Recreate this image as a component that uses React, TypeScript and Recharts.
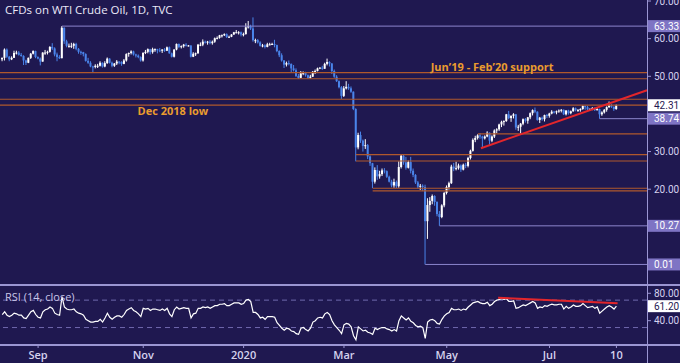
import { Bar, ComposedChart, Line, ReferenceDot, ReferenceLine, XAxis, YAxis } from 'recharts'

// daily candles, 12 Aug 2019 – 10 Aug 2020 (holidays Dec 25, Jan 1, Apr 10 skipped)
const opens = [
  54.5, 54.9, 57.1, 55.2, 54.5, 54.9, 56.2, 56.3, 55.7, 55.4,
  54.2, 53.6, 54.9, 56.0, 56.7, 55.1, 54.7, 53.9, 56.3, 56.3,
  56.5, 57.8, 57.4, 55.8, 55.1, 54.8, 62.9, 59.3, 58.1, 58.1,
  58.1, 58.6, 57.3, 56.5, 56.4, 55.9, 54.1, 53.6, 52.6, 52.5,
  52.8, 52.8, 53.6, 52.6, 53.5, 54.7, 53.6, 52.8, 53.4, 53.9,
  53.8, 53.3, 54.2, 55.9, 56.2, 56.6, 55.8, 55.5, 55.1, 54.2,
  56.2, 56.5, 57.2, 56.4, 57.2, 57.2, 56.9, 56.8, 57.1, 56.8,
  57.7, 56.1, 55.2, 57.1, 58.6, 57.8, 58.0, 58.4, 58.1, 58.2,
  55.2, 56.0, 56.1, 58.4, 58.4, 59.2, 59.0, 59.2, 58.8, 59.2,
  60.1, 60.2, 60.9, 60.9, 61.2, 60.4, 60.5, 61.1, 61.7, 61.7,
  61.7, 61.1, 61.2, 63.0, 63.3, 62.7, 59.6, 59.6, 59.0, 58.1,
  58.2, 57.8, 58.5, 58.5, 58.6, 58.3, 56.7, 55.6, 54.2, 53.1,
  53.5, 53.3, 52.1, 51.6, 50.1, 49.6, 50.8, 50.9, 50.3, 49.6,
  49.9, 51.2, 51.4, 52.1, 52.3, 52.0, 53.3, 53.8, 53.4, 51.4,
  49.9, 48.7, 47.1, 44.8, 46.8, 47.2, 46.8, 45.9, 41.3, 31.1,
  34.4, 32.9, 31.5, 31.7, 28.7, 26.9, 22.0, 25.1, 23.4, 24.0,
  25.0, 24.8, 23.3, 22.0, 21.0, 21.9, 20.8, 25.9, 28.9, 27.1,
  25.7, 27.2, 24.9, 23.8, 21.8, 20.7, 20.9, 20.6, 11.5, 15.8,
  16.9, 18.2, 16.6, 13.4, 12.6, 15.7, 19.0, 20.6, 21.6, 26.0,
  25.5, 25.6, 26.3, 25.2, 26.5, 26.2, 28.3, 30.2, 33.1, 33.6,
  34.3, 34.0, 33.5, 34.0, 35.0, 32.9, 34.0, 35.6, 35.9, 37.2,
  37.9, 38.1, 39.9, 38.9, 39.5, 39.9, 36.4, 36.6, 37.4, 38.6,
  38.2, 39.1, 40.2, 41.0, 40.6, 38.4, 39.0, 38.6, 39.7, 39.5,
  40.1, 40.6, 40.4, 40.7, 40.9, 41.1, 39.9, 40.9, 40.2, 40.7,
  41.5, 41.0, 41.0, 41.3, 42.1, 41.8, 41.2, 41.3, 41.6, 41.0,
  41.3, 39.9, 40.4, 41.1, 41.8, 42.3, 41.9, 41.3,
]
const highs = [
  55.0, 57.4, 57.4, 55.4, 55.3, 56.8, 56.8, 56.7, 56.2, 55.6,
  54.4, 55.0, 56.2, 56.9, 56.8, 55.3, 55.0, 56.4, 57.0, 56.8,
  58.0, 58.8, 57.7, 56.3, 55.6, 63.33, 63.0, 59.7, 58.7, 58.9,
  58.9, 58.9, 57.5, 56.8, 56.5, 56.1, 54.9, 54.0, 52.8, 53.2,
  53.3, 54.0, 53.7, 54.0, 55.0, 54.8, 53.9, 53.5, 54.3, 54.0,
  54.0, 54.6, 56.1, 56.3, 56.9, 56.8, 56.0, 55.8, 55.3, 56.4,
  57.0, 57.4, 57.3, 57.6, 57.4, 57.3, 57.5, 57.2, 57.5, 57.9,
  57.9, 56.3, 57.2, 58.7, 58.7, 58.2, 58.6, 58.8, 58.3, 58.2,
  56.4, 56.3, 58.6, 59.0, 59.8, 59.5, 59.4, 59.6, 59.5, 60.3,
  60.6, 61.0, 61.1, 61.4, 61.4, 60.8, 61.2, 61.8, 62.3, 62.0,
  61.9, 61.6, 64.1, 64.7, 63.7, 65.65, 60.0, 59.9, 59.3, 58.6,
  58.5, 58.9, 58.9, 58.9, 59.7, 58.4, 56.9, 56.1, 54.3, 53.9,
  54.2, 53.4, 53.0, 52.1, 50.6, 51.4, 51.3, 51.2, 50.5, 50.4,
  51.4, 51.8, 52.3, 52.4, 52.8, 53.6, 54.7, 54.0, 53.5, 51.8,
  50.3, 48.9, 47.4, 47.4, 48.7, 48.0, 47.3, 46.0, 41.5, 35.0,
  35.3, 33.2, 33.3, 32.0, 29.0, 27.0, 25.8, 26.4, 24.9, 25.5,
  25.6, 25.0, 23.6, 22.5, 22.8, 22.3, 27.4, 29.3, 29.2, 28.6,
  27.6, 28.6, 25.5, 24.0, 22.2, 21.4, 21.3, 21.2, 17.6, 17.9,
  18.6, 18.4, 16.8, 14.2, 16.0, 19.3, 21.0, 22.0, 26.5, 27.0,
  27.3, 26.8, 26.6, 26.8, 27.0, 28.6, 30.5, 33.5, 34.2, 34.6,
  34.9, 34.2, 34.3, 35.4, 35.1, 34.3, 35.9, 36.2, 37.4, 38.2,
  38.3, 40.0, 40.8, 39.6, 40.2, 40.0, 37.1, 37.6, 38.8, 38.9,
  39.2, 40.4, 41.2, 41.7, 40.7, 39.2, 39.3, 39.8, 40.0, 40.3,
  41.0, 40.8, 40.9, 41.2, 41.3, 41.2, 41.0, 41.1, 40.9, 41.8,
  41.7, 41.3, 41.5, 42.3, 42.2, 42.2, 41.5, 41.8, 41.7, 41.6,
  41.4, 40.7, 41.3, 42.0, 43.3, 42.6, 42.0, 42.5,
]
const lows = [
  54.0, 54.2, 54.9, 54.0, 54.3, 54.9, 55.8, 55.5, 55.2, 53.0,
  53.0, 53.5, 54.6, 55.8, 54.8, 54.5, 52.9, 53.9, 55.7, 55.8,
  56.3, 57.0, 55.3, 54.0, 54.6, 54.8, 58.6, 57.7, 57.6, 57.5,
  57.3, 56.9, 56.0, 55.7, 55.3, 53.9, 53.3, 52.4, 51.0, 52.1,
  52.2, 52.6, 52.3, 52.4, 53.3, 53.4, 52.4, 52.5, 53.0, 53.2,
  52.8, 53.2, 53.9, 55.2, 55.8, 55.5, 55.0, 54.8, 53.9, 53.9,
  55.9, 56.1, 55.8, 56.0, 56.5, 56.1, 56.4, 56.2, 56.5, 56.7,
  56.0, 55.0, 55.0, 56.9, 57.5, 57.4, 57.6, 57.9, 57.9, 55.0,
  55.1, 55.4, 56.0, 58.0, 58.0, 58.7, 58.4, 58.5, 58.4, 58.9,
  59.8, 60.0, 60.3, 60.7, 60.2, 60.2, 60.4, 61.0, 61.4, 61.1,
  60.6, 60.6, 61.1, 62.7, 62.3, 59.2, 58.8, 58.7, 57.9, 57.7,
  57.4, 57.7, 58.2, 58.3, 57.7, 56.4, 55.1, 53.9, 52.2, 52.6,
  52.9, 50.9, 51.3, 49.8, 49.3, 49.5, 50.3, 49.9, 49.3, 49.4,
  49.8, 50.6, 51.3, 51.9, 51.7, 52.0, 52.9, 52.6, 50.6, 49.6,
  48.5, 46.8, 44.0, 44.5, 46.5, 46.4, 45.6, 41.0, 27.4, 30.6,
  32.3, 30.0, 30.7, 28.0, 26.2, 20.3, 21.5, 22.5, 22.8, 23.5,
  24.2, 23.0, 21.8, 20.5, 20.4, 20.3, 20.4, 25.5, 26.5, 25.2,
  25.5, 24.2, 23.2, 21.4, 20.2, 19.8, 19.5, 0.01, 6.8, 14.0,
  16.0, 15.6, 12.8, 10.27, 12.3, 15.2, 18.6, 19.9, 21.4, 24.8,
  25.0, 25.2, 24.6, 25.0, 25.6, 25.8, 27.9, 30.0, 32.5, 33.2,
  33.4, 31.0, 33.2, 33.8, 31.8, 32.5, 33.6, 34.9, 35.5, 36.5,
  36.9, 37.9, 38.6, 37.9, 38.8, 35.8, 35.5, 34.7, 37.0, 37.7,
  37.4, 38.6, 39.6, 40.2, 38.2, 37.6, 38.2, 38.0, 38.9, 39.0,
  39.9, 40.1, 39.9, 40.3, 40.4, 39.7, 39.6, 39.8, 39.9, 40.6,
  40.7, 40.6, 40.6, 41.1, 41.1, 40.9, 40.8, 41.0, 40.8, 40.9,
  38.74, 39.5, 40.1, 40.6, 41.6, 41.6, 40.8, 41.1,
]
const closes = [
  54.9, 57.1, 55.2, 54.5, 54.9, 56.2, 56.3, 55.7, 55.4, 54.2,
  53.6, 54.9, 56.0, 56.7, 55.1, 54.7, 53.9, 56.3, 56.3, 56.5,
  57.8, 57.4, 55.8, 55.1, 54.8, 62.9, 59.3, 58.1, 58.1, 58.1,
  58.6, 57.3, 56.5, 56.4, 55.9, 54.1, 53.6, 52.6, 52.5, 52.8,
  52.8, 53.6, 52.6, 53.5, 54.7, 53.6, 52.8, 53.4, 53.9, 53.8,
  53.3, 54.2, 55.9, 56.2, 56.6, 55.8, 55.5, 55.1, 54.2, 56.2,
  56.5, 57.2, 56.4, 57.2, 57.2, 56.9, 56.8, 57.1, 56.8, 57.7,
  56.1, 55.2, 57.1, 58.6, 57.8, 58.0, 58.4, 58.1, 58.2, 55.2,
  56.0, 56.1, 58.4, 58.4, 59.2, 59.0, 59.2, 58.8, 59.2, 60.1,
  60.2, 60.9, 60.9, 61.2, 60.4, 60.5, 61.1, 61.7, 61.7, 61.7,
  61.1, 61.2, 63.0, 63.3, 62.7, 59.6, 59.6, 59.0, 58.1, 58.2,
  57.8, 58.5, 58.5, 58.6, 58.3, 56.7, 55.6, 54.2, 53.1, 53.5,
  53.3, 52.1, 51.6, 50.1, 49.6, 50.8, 50.9, 50.3, 49.6, 49.9,
  51.2, 51.4, 52.1, 52.3, 52.0, 53.3, 53.8, 53.4, 51.4, 49.9,
  48.7, 47.1, 44.8, 46.8, 47.2, 46.8, 45.9, 41.3, 31.1, 34.4,
  32.9, 31.5, 31.7, 28.7, 26.9, 22.0, 25.1, 23.4, 24.0, 25.0,
  24.8, 23.3, 22.0, 21.0, 21.9, 20.8, 25.9, 28.9, 27.1, 25.7,
  27.2, 24.9, 23.8, 21.8, 20.7, 20.9, 20.6, 11.5, 15.8, 16.9,
  18.2, 16.6, 13.4, 12.6, 15.7, 19.0, 20.6, 21.6, 26.0, 25.5,
  25.6, 26.3, 25.2, 26.5, 26.2, 28.3, 30.2, 33.1, 33.6, 34.3,
  34.0, 33.5, 34.0, 35.0, 32.9, 34.0, 35.6, 35.9, 37.2, 37.9,
  38.1, 39.9, 38.9, 39.5, 39.9, 36.4, 36.6, 37.4, 38.6, 38.2,
  39.1, 40.2, 41.0, 40.6, 38.4, 39.0, 38.6, 39.7, 39.5, 40.1,
  40.6, 40.4, 40.7, 40.9, 41.1, 39.9, 40.9, 40.2, 40.7, 41.5,
  41.0, 41.0, 41.3, 42.1, 41.8, 41.2, 41.3, 41.6, 41.0, 41.3,
  39.9, 40.4, 41.1, 41.8, 42.3, 41.9, 41.3, 42.31,
]
const rsi = [
  49, 53, 48, 46, 48, 51, 50, 48, 48, 44,
  43, 48, 53, 55, 49, 45, 44, 53, 56, 57,
  60, 58, 51, 49, 48, 75, 60, 57, 56, 56,
  57, 53, 51, 50, 48, 42, 40, 38, 38, 39,
  39, 42, 38, 44, 51, 45, 42, 45, 47, 47,
  45, 49, 55, 57, 59, 55, 53, 50, 46, 58,
  57, 58, 55, 57, 57, 56, 55, 57, 55, 58,
  50, 46, 56, 60, 57, 58, 59, 58, 58, 44,
  50, 51, 58, 58, 60, 59, 60, 58, 60, 62,
  62, 64, 64, 65, 62, 62, 64, 66, 66, 66,
  64, 65, 70, 71, 68, 52, 52, 49, 44, 45,
  42, 46, 46, 46, 45, 37, 33, 29, 26, 29,
  28, 25, 24, 21, 20, 29, 30, 27, 25, 29,
  38, 40, 44, 45, 44, 50, 52, 49, 40, 34,
  30, 26, 21, 34, 36, 35, 31, 18, 12, 31,
  28, 25, 26, 23, 22, 20, 29, 27, 29, 30,
  30, 28, 27, 25, 27, 25, 40, 47, 44, 41,
  44, 39, 37, 33, 31, 32, 30, 14, 38, 41,
  42, 40, 36, 35, 42, 47, 50, 52, 58, 56,
  56, 57, 55, 57, 56, 60, 63, 66, 67, 68,
  66, 65, 65, 67, 62, 64, 68, 70, 71, 72,
  71, 72, 68, 68, 69, 58, 59, 61, 63, 62,
  64, 66, 68, 66, 58, 60, 59, 62, 61, 63,
  64, 63, 63, 64, 64, 57, 61, 58, 60, 63,
  61, 61, 62, 65, 62, 59, 60, 61, 58, 60,
  51, 54, 57, 60, 62, 60, 57, 61.2,
]

const tickIdx = [15, 59, 101, 143, 186, 229, 257]
const tickLabels = ['Sep', 'Nov', '2020', 'Mar', 'May', 'Jul', '10']
const priceTicks = [0.01, 10.27, 20, 30, 38.74, 42.31, 50, 60, 63.33, 70]
const rsiTicks = [40, 61.2, 80]

// [price, first candle index]
const supportZones = [
  [51.0, -1], [49.35, -1], [43.9, -1], [42.35, -1], [34.7, 199],
  [29.2, 148], [27.5, 148], [20.25, 155], [19.55, 155],
]
const swingLevels = [[63.33, 25], [38.74, 250], [10.27, 183], [0.01, 177]]
const priceTrend = [[200.3, 30.9], [269.8, 46.3]]
const rsiTrend = [[207.5, 73.5], [257.5, 65.4]]
const rsiBands = [70, 30]
const lastPrice = 42.31
const lastRsi = 61.2
const notes = [
  { i: 71.4, p: 40.8, text: 'Dec 2018 low' },
  { i: 205, p: 52.5, text: 'Jun’19 - Feb’20 support' },
]

const xDomain: [number, number] = [-0.94, 269.8]
const priceDomain: [number, number] = [-5.45, 70.27]
const rsiDomain: [number, number] = [4.5, 92.1]

const BG = '#1f1850'
const UP = '#ffffff'
const DOWN = '#4a84ea'
const ZONE = '#b0582c'
const LEVEL = '#8c85cc'
const BOX = '#7e74c4'
const FRAME = '#9a95d2'
const AXIS_TEXT = '#d5d2ee'
const NOTE = '#ea9c2e'
const TREND = '#e3262b'
const FONT = '"Open Sans", sans-serif'
const NUM_FONT = 'Roboto, sans-serif'

const candles = closes.map((close, i) => ({
  i,
  range: [lows[i], highs[i]],
  open: opens[i],
  close,
  high: highs[i],
  low: lows[i],
  rsi: rsi[i],
}))

function Candle(props: any) {
  const { x, y, width, height, payload } = props
  const { open, close, high, low } = payload
  const color = close >= open ? UP : DOWN
  const cx = x + width / 2
  const ppu = high === low ? 0 : height / (high - low)
  const top = y + (high - Math.max(open, close)) * ppu
  const bodyH = Math.max(1, Math.abs(close - open) * ppu)
  return (
    <g>
      <line x1={cx} x2={cx} y1={y} y2={y + height} stroke={color} strokeWidth={1} />
      <rect x={cx - 1} y={top} width={2} height={bodyH} fill={color} />
    </g>
  )
}

// right-hand value labels: plain, white (last value) or lavender boxes (levels)
function ValueTick({ x, y, payload, white, boxed }: any) {
  const v = payload.value as number
  const label = v.toFixed(2)
  const left = x + 1
  if (v === white || (boxed && boxed.includes(v))) {
    const isWhite = v === white
    return (
      <g>
        <rect x={left} y={y - 6} width={32} height={12} fill={isWhite ? '#ffffff' : BOX} />
        <text x={left + 6} y={y} dy="0.36em" fill={isWhite ? BG : '#ffffff'} fontSize={10} fontFamily={NUM_FONT}>{label}</text>
      </g>
    )
  }
  return (
    <g>
      <line x1={left} x2={left + 3} y1={y} y2={y} stroke={FRAME} />
      <text x={left + 6} y={y} dy="0.36em" fill={AXIS_TEXT} fontSize={10} fontFamily={NUM_FONT}>{label}</text>
    </g>
  )
}

export default function App() {
  const levelPrices = swingLevels.map((l) => l[0])
  return (
    <div style={{ position: 'fixed', left: 0, top: 0, width: 680, height: 363, background: BG, overflow: 'hidden', fontFamily: FONT }}>
      <div style={{ position: 'absolute', left: 0, top: 0 }}>
        <ComposedChart width={680} height={285} data={candles} margin={{ top: 0, right: 0, bottom: 0, left: 0 }}>
          <XAxis dataKey="i" type="number" domain={xDomain} allowDataOverflow hide />
          <YAxis
            orientation="right"
            width={33}
            domain={priceDomain}
            allowDataOverflow
            ticks={priceTicks}
            interval={0}
            tickSize={0}
            tickMargin={0}
            axisLine={false}
            tickLine={false}
            tick={<ValueTick white={lastPrice} boxed={levelPrices} />}
          />
          {supportZones.map(([p, start]) => (
            <ReferenceLine
              key={`z${p}`}
              segment={[{ x: Math.max(start, xDomain[0]), y: p }, { x: xDomain[1], y: p }]}
              stroke={ZONE}
              strokeWidth={1.2}
              ifOverflow="visible"
            />
          ))}
          {swingLevels.map(([p, start]) => (
            <ReferenceLine
              key={`l${p}`}
              segment={[{ x: start, y: p }, { x: xDomain[1], y: p }]}
              stroke={LEVEL}
              ifOverflow="visible"
            />
          ))}
          <Bar dataKey="range" barSize={2} shape={<Candle />} isAnimationActive={false} />
          <ReferenceLine
            segment={[{ x: priceTrend[0][0], y: priceTrend[0][1] }, { x: priceTrend[1][0], y: priceTrend[1][1] }]}
            stroke={TREND}
            strokeWidth={2}
            ifOverflow="visible"
          />
          {notes.map((n) => (
            <ReferenceDot
              key={n.text}
              x={n.i}
              y={n.p}
              r={0}
              fill="none"
              stroke="none"
              ifOverflow="visible"
              label={{ value: n.text, position: 'center', fill: NOTE, fontSize: 11, fontWeight: 700, fontFamily: FONT }}
            />
          ))}
        </ComposedChart>
      </div>
      <div style={{ position: 'absolute', left: 0, top: 285 }}>
        <ComposedChart width={680} height={78} data={candles} margin={{ top: 0, right: 0, bottom: 0, left: 0 }}>
          <XAxis
            dataKey="i"
            type="number"
            domain={xDomain}
            allowDataOverflow
            ticks={tickIdx}
            interval={0}
            height={18}
            axisLine={false}
            tickSize={3}
            tickMargin={3}
            tickLine={{ stroke: FRAME }}
            tickFormatter={(v) => tickLabels[tickIdx.indexOf(v)]}
            tick={{ fill: AXIS_TEXT, fontSize: 11, fontWeight: 600, fontFamily: FONT }}
          />
          <YAxis
            orientation="right"
            width={33}
            domain={rsiDomain}
            allowDataOverflow
            ticks={rsiTicks}
            interval={0}
            tickSize={0}
            tickMargin={0}
            axisLine={false}
            tickLine={false}
            tick={<ValueTick white={lastRsi} />}
          />
          {rsiBands.map((v) => (
            <ReferenceLine key={v} y={v} stroke="#6f68ad" strokeDasharray="5 4" />
          ))}
          <Line dataKey="rsi" stroke="#ffffff" strokeWidth={1.2} dot={false} isAnimationActive={false} />
          <ReferenceLine
            segment={[{ x: rsiTrend[0][0], y: rsiTrend[0][1] }, { x: rsiTrend[1][0], y: rsiTrend[1][1] }]}
            stroke={TREND}
            strokeWidth={2}
            ifOverflow="visible"
          />
        </ComposedChart>
      </div>
      <div style={{ position: 'absolute', left: 0, top: 284, width: 680, height: 2, background: FRAME }} />
      <div style={{ position: 'absolute', left: 0, top: 344, width: 680, height: 2, background: FRAME }} />
      <div style={{ position: 'absolute', left: 647, top: 0, width: 1, height: 363, background: FRAME }} />
      <div style={{ position: 'absolute', left: 5, top: 2, color: '#ebe9f8', fontSize: 11.5 }}>CFDs on WTI Crude Oil, 1D, TVC</div>
      <div style={{ position: 'absolute', left: 5, top: 289, color: '#c9c5e8', fontSize: 11 }}>RSI (14, close)</div>
    </div>
  )
}
